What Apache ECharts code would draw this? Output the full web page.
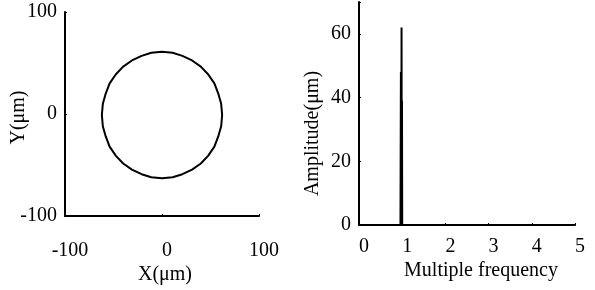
<!DOCTYPE html>
<html>
<head>
<meta charset="utf-8">
<script src="https://cdn.jsdelivr.net/npm/echarts@6/dist/echarts.min.js"></script>
<style>
  html, body { margin: 0; padding: 0; background: #fff; }
  #chart { width: 595px; height: 290px; }
</style>
</head>
<body>
<div id="chart"></div>
<script>
// orbit trace (left plot)
var orbitX = [62, 61, 58, 54, 47.5, 40, 31, 21, 11, 0, -11, -21, -31, -40, -47.5, -54, -58, -61,
              -62, -61, -58, -54, -47.5, -40, -31, -21, -11, 0, 11, 21, 31, 40, 47.5, 54, 58, 61, 62];
var orbitY = [-1, 10, 20, 30, 39, 46.5, 52.5, 57, 60, 61, 60, 57, 52.5, 46.5, 39, 30, 20, 10,
              -1, -12, -22, -32, -41, -48.5, -54.5, -59, -62, -63, -62, -59, -54.5, -48.5, -41, -32, -22, -12, -1];

// spectrum (right plot)
var freq = [0, 0.96, 0.97, 0.98, 0.985, 0.99, 0.995, 1.0, 5];
var amp = [0, 0, 48, 0, 62, 0, 39, 0, 0];

var xyTicks = [-100, 0, 100];
var ampTicks = [0, 20, 40, 60];
var freqTicks = [0, 1, 2, 3, 4, 5];

var font = 'Liberation Serif';
var fs = 20;
var black = '#000';

var myChart = echarts.init(document.getElementById('chart'));

function zip(a, b) {
    return a.map(function (v, i) { return [v, b[i]]; });
}

var axisLineStyle = { show: true, onZero: false, lineStyle: { color: black, width: 2 } };
var tickStyle = { show: true, inside: true, length: 2, lineStyle: { color: black, width: 1 } };

var option = {
    animation: false,
    backgroundColor: '#fff',
    grid: [
        { left: 65, top: 12, width: 194, height: 205 },
        { left: 359, top: 2, width: 216, height: 223 }
    ],
    xAxis: [{
        gridIndex: 0,
        type: 'value',
        min: -100, max: 100, interval: 100,
        name: 'X(μm)',
        nameLocation: 'middle',
        nameGap: 49,
        nameMoveOverlap: false,
        nameTextStyle: { fontFamily: font, fontSize: fs, color: black, padding: [0, 0, 0, 6] },
        axisLine: axisLineStyle,
        axisTick: tickStyle,
        splitLine: { show: false },
        axisLabel: { fontFamily: font, fontSize: fs, color: black, margin: 25, padding: [0, 0, 0, 10] }
    }, {
        gridIndex: 1,
        type: 'value',
        min: 0, max: 5, interval: 1,
        name: 'Multiple frequency',
        nameLocation: 'middle',
        nameGap: 36,
        nameMoveOverlap: false,
        nameTextStyle: { fontFamily: font, fontSize: fs, color: black, padding: [0, 0, 0, 28] },
        axisLine: axisLineStyle,
        axisTick: tickStyle,
        splitLine: { show: false },
        axisLabel: { fontFamily: font, fontSize: fs, color: black, margin: 12, padding: [0, 0, 0, 10] }
    }],
    yAxis: [{
        gridIndex: 0,
        type: 'value',
        min: -100, max: 100, interval: 100,
        name: 'Y(μm)',
        nameLocation: 'middle',
        nameGap: 36,
        nameMoveOverlap: false,
        nameRotate: 90,
        nameTextStyle: { fontFamily: font, fontSize: fs, color: black, padding: [0, 7, 0, 0] },
        axisLine: axisLineStyle,
        axisTick: tickStyle,
        splitLine: { show: false },
        axisLabel: { fontFamily: font, fontSize: fs, color: black, margin: 8, padding: [8, 0, 0, 0] }
    }, {
        gridIndex: 1,
        type: 'value',
        min: 0, max: 70, interval: 20,
        name: 'Amplitude(μm)',
        nameLocation: 'middle',
        nameGap: 36,
        nameMoveOverlap: false,
        nameRotate: 90,
        nameTextStyle: { fontFamily: font, fontSize: fs, color: black, padding: [0, 40, 0, 0] },
        axisLine: axisLineStyle,
        axisTick: tickStyle,
        splitLine: { show: false },
        axisLabel: {
            fontFamily: font, fontSize: fs, color: black, margin: 8, padding: [6, 0, 0, 0],
            formatter: function (v) { return ampTicks.indexOf(v) >= 0 ? String(v) : ''; }
        }
    }],
    series: [{
        type: 'line',
        xAxisIndex: 0,
        yAxisIndex: 0,
        data: zip(orbitX, orbitY),
        symbol: 'none',
        lineStyle: { color: black, width: 2 }
    }, {
        type: 'line',
        xAxisIndex: 1,
        yAxisIndex: 1,
        data: zip(freq, amp),
        symbol: 'none',
        lineStyle: { color: black, width: 2 }
    }]
};

myChart.setOption(option);
</script>
</body>
</html>
